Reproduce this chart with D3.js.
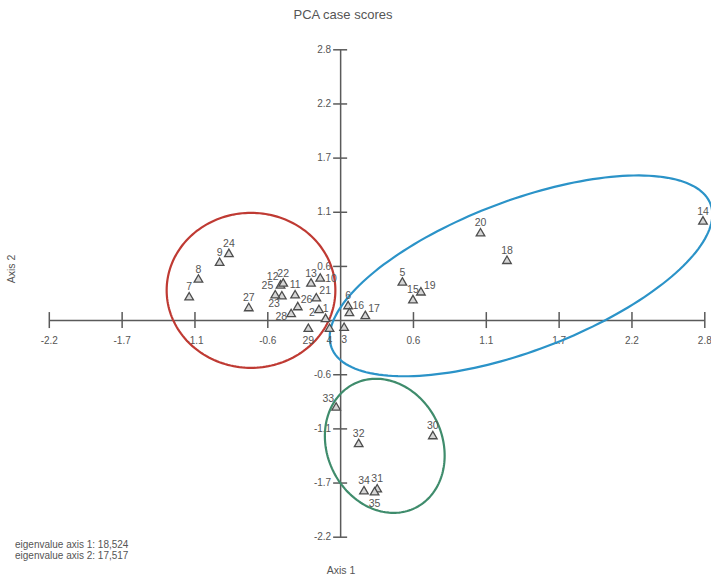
<!DOCTYPE html>
<html>
<head>
<meta charset="utf-8">
<script src="https://cdn.jsdelivr.net/npm/d3@7/dist/d3.min.js"></script>
<style>
  html, body { margin: 0; padding: 0; background: #fff; }
  svg { display: block; }
  text { font-family: "Liberation Sans Narrow", "Liberation Sans", Arial, sans-serif; fill: #555; }
</style>
</head>
<body>
<svg id="chart" width="711" height="579"></svg>
<script>
// PCA case scores for 35 cases
const caseIds = d3.range(1, 36);
const axis1Scores = [
  -0.11, -0.16, 0.03, -0.08, 0.47, 0.06, -1.14, -1.07, -0.91, -0.15,
  -0.34, -0.45, -0.22, 2.74, 0.55, 0.07, 0.19, 1.26, 0.61, 1.06,
  -0.18, -0.43, -0.44, -0.84, -0.49, -0.32, -0.69, -0.37, -0.24, 0.70,
  0.28, 0.14, -0.03, 0.18, 0.26
];
const axis2Scores = [
  0.01, 0.10, -0.08, -0.09, 0.38, 0.14, 0.23, 0.41, 0.58, 0.42,
  0.25, 0.35, 0.37, 1.00, 0.20, 0.07, 0.04, 0.60, 0.28, 0.88,
  0.22, 0.37, 0.24, 0.67, 0.25, 0.13, 0.12, 0.06, -0.09, -1.18,
  -1.72, -1.26, -0.89, -1.74, -1.75
];

// Axis ticks (0 is the crossing point and carries no label)
const xTickValues = [-2.2, -1.65, -1.1, -0.55, 0.55, 1.1, 1.65, 2.2, 2.75];
const xTickLabels = ["-2.2", "-1.7", "-1.1", "-0.6", "0.6", "1.1", "1.7", "2.2", "2.8"];
const yTickValues = [-2.2, -1.65, -1.1, -0.55, 0.55, 1.1, 1.65, 2.2, 2.75];
const yTickLabels = ["-2.2", "-1.7", "-1.1", "-0.6", "0.6", "1.1", "1.7", "2.2", "2.8"];

const eigenvalues = ["18,524", "17,517"];

// Group outlines: centre and two conjugate semi-axes, in score units
const groupCentres = [[-0.673, 0.302], [1.366, 0.449], [0.337, -1.277]];
const groupAxisU = [[0.637, 0.0], [1.431, 0.729], [0.452, -0.122]];
const groupAxisV = [[0.0, 0.787], [0.200, -0.713], [-0.015, -0.670]];
const groupColors = ["#bf3a33", "#2b93c8", "#3f8c6c"];

// Label placement around each marker
const labelSide = {
  1: "n", 2: "w", 3: "s", 4: "s", 10: "e", 12: "nw", 16: "ne", 17: "ne",
  19: "ne", 21: "ne", 23: "sw", 25: "nw", 26: "ne", 28: "w", 29: "s",
  33: "nw", 35: "s"
};

const svg = d3.select("#chart");
svg.append("rect").attr("width", 711).attr("height", 579).attr("fill", "#fff");

const x = d3.scaleLinear().domain([-2.2, 2.75]).range([48.8, 704.3]);
const y = d3.scaleLinear().domain([-2.2, 2.75]).range([536.7, 49.3]);

const axisColor = "#5a5a5a";
const tickFont = '"Liberation Sans Narrow", "Liberation Sans", Arial, sans-serif';

// Horizontal axis through y = 0
const xAxis = svg.append("g")
  .attr("transform", `translate(0,${y(0)})`)
  .call(d3.axisBottom(x).tickValues(xTickValues)
    .tickFormat((d, i) => xTickLabels[i]).tickSizeOuter(0));
xAxis.select(".domain").attr("stroke", axisColor).attr("stroke-width", 1.5);
xAxis.selectAll(".tick line").attr("y1", -8).attr("y2", 8)
  .attr("stroke", axisColor).attr("stroke-width", 1.5);
xAxis.selectAll(".tick text").attr("y", 17).attr("dy", "0.71em")
  .attr("font-size", 10).attr("fill", "#555").style("font-family", tickFont);

// Vertical axis through x = 0
const yAxis = svg.append("g")
  .attr("transform", `translate(${x(0)},0)`)
  .call(d3.axisLeft(y).tickValues(yTickValues)
    .tickFormat((d, i) => yTickLabels[i]).tickSizeOuter(0));
yAxis.select(".domain").attr("stroke", axisColor).attr("stroke-width", 1.5);
yAxis.selectAll(".tick line").attr("x1", -7).attr("x2", 7)
  .attr("stroke", axisColor).attr("stroke-width", 1.5);
yAxis.selectAll(".tick text").attr("x", -9)
  .attr("font-size", 10).attr("fill", "#555").style("font-family", tickFont);

// Group outlines
const outline = d3.line().curve(d3.curveLinearClosed);
groupCentres.forEach((c, g) => {
  const u = groupAxisU[g], v = groupAxisV[g];
  const pts = d3.range(0, 2 * Math.PI, Math.PI / 90).map(t => [
    x(c[0] + u[0] * Math.cos(t) + v[0] * Math.sin(t)),
    y(c[1] + u[1] * Math.cos(t) + v[1] * Math.sin(t))
  ]);
  svg.append("path").attr("d", outline(pts))
    .attr("fill", "none").attr("stroke", groupColors[g]).attr("stroke-width", 2.2);
});

// Case markers
const cases = caseIds.map((id, i) => ({ id, a1: axis1Scores[i], a2: axis2Scores[i] }));
const tri = d3.symbol().type(d3.symbolTriangle).size(32);

svg.append("g").selectAll("path")
  .data(cases).join("path")
  .attr("d", tri)
  .attr("transform", d => `translate(${x(d.a1)},${y(d.a2)})`)
  .attr("fill", "#d6d6d6").attr("stroke", "#4d4d4d").attr("stroke-width", 1.3);

const offsets = {
  n:  { dx: 0,  dy: -7, anchor: "middle" },
  s:  { dx: 0,  dy: 15, anchor: "middle" },
  e:  { dx: 5,  dy: 3,  anchor: "start" },
  ne: { dx: 3,  dy: -4, anchor: "start" },
  w:  { dx: -4, dy: 6,  anchor: "end" },
  nw: { dx: -2, dy: -6, anchor: "end" },
  sw: { dx: -2, dy: 11, anchor: "end" }
};

svg.append("g").selectAll("text")
  .data(cases).join("text")
  .each(function (d) {
    const o = offsets[labelSide[d.id] || "n"];
    d3.select(this)
      .attr("x", x(d.a1) + o.dx)
      .attr("y", y(d.a2) + o.dy)
      .attr("text-anchor", o.anchor);
  })
  .attr("font-size", 10.5)
  .text(d => d.id);

// Title and axis names
svg.append("text").attr("x", 343).attr("y", 19).attr("text-anchor", "middle")
  .attr("font-size", 13).text("PCA case scores");
svg.append("text").attr("x", 341).attr("y", 574).attr("text-anchor", "middle")
  .attr("font-size", 10.5).text("Axis 1");
svg.append("text").attr("transform", "translate(15,269) rotate(-90)")
  .attr("text-anchor", "middle").attr("font-size", 10.5).text("Axis 2");

// Eigenvalues
eigenvalues.forEach((ev, i) => {
  svg.append("text").attr("x", 15).attr("y", 548 + i * 10.5)
    .attr("font-size", 10).text(`eigenvalue axis ${i + 1}: ${ev}`);
});
</script>
</body>
</html>
